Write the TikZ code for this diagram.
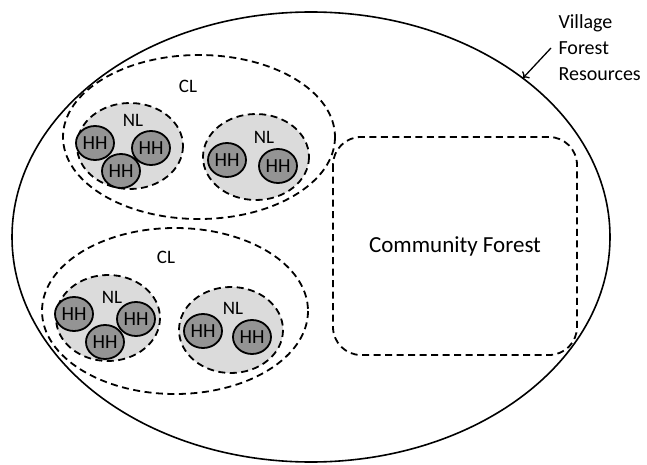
\documentclass[tikz,border=0pt]{standalone}
\usepackage{fontspec}
\setmainfont{Carlito}
\tikzset{
	dashline/.style = {line width = 1.8pt, dash pattern = on 7pt off 4.5pt},
	nlfill/.style = {fill = black!14},
	hhcirc/.style = {draw, line width = 1.8pt, fill = black!42, ellipse, minimum width = 38pt, minimum height = 34pt, inner sep = 0pt, font = \fontsize{20}{22}\selectfont},
	lbl/.style = {font = \fontsize{19}{21}\selectfont}
}
\usetikzlibrary{shapes.geometric, arrows.meta}
\begin{document}
\begin{tikzpicture}[x = 1pt, y = -1pt]
					\useasboundingbox (0,0) rectangle (647,465);
					\draw[line width = 1.6pt] (311,237) ellipse (299 and 225);
					% top CL
					\draw[dashline] (199,137) ellipse (136 and 82);
					\fill[nlfill] (130,146) ellipse (53 and 43);
					\draw[dashline] (130,146) ellipse (53 and 43);
					\fill[nlfill] (256,157) ellipse (53 and 43);
					\draw[dashline] (256,157) ellipse (53 and 43);
					\node[lbl] (cl1) at (188,86) {CL};
					\node[lbl] (nl1) at (133,120) {NL};
					\node[lbl] (nl2) at (264,137) {NL};
					\node[hhcirc] (hh1) at (95,143) {HH};
					\node[hhcirc] (hh2) at (151,148) {HH};
					\node[hhcirc] (hh3) at (121,171) {HH};
					\node[hhcirc] (hh4) at (227,160) {HH};
					\node[hhcirc] (hh5) at (278,166) {HH};
					% bottom CL
					\draw[dashline] (175,311) ellipse (133 and 83);
					\fill[nlfill] (108,318) ellipse (52 and 43);
					\draw[dashline] (108,318) ellipse (52 and 43);
					\fill[nlfill] (231,330) ellipse (52 and 43);
					\draw[dashline] (231,330) ellipse (52 and 43);
					\node[lbl] (cl2) at (166,257) {CL};
					\node[lbl] (nl3) at (112,297) {NL};
					\node[lbl] (nl4) at (233,308) {NL};
					\node[hhcirc] (hh6) at (74,314) {HH};
					\node[hhcirc] (hh7) at (136,319) {HH};
					\node[hhcirc] (hh8) at (105,342) {HH};
					\node[hhcirc] (hh9) at (203,331) {HH};
					\node[hhcirc] (hh10) at (252,337) {HH};
					% community forest
					\draw[dashline, rounded corners = 28pt] (333,137) rectangle (577,355);
					\node[font = \fontsize{23}{26}\selectfont] (cf) at (455,246) {Community Forest};
					% label
					\node[anchor = west, align = left, font = \fontsize{20}{26}\selectfont] (vfr) at (555,48) {Village\\Forest\\Resources};
					\coordinate (hit) at (523,78);
					\draw[-{To[length = 5pt, width = 10pt]}, line width = 1.3pt] ([xshift = -4pt]vfr.west) -- (hit);
				\end{tikzpicture}
\end{document}
